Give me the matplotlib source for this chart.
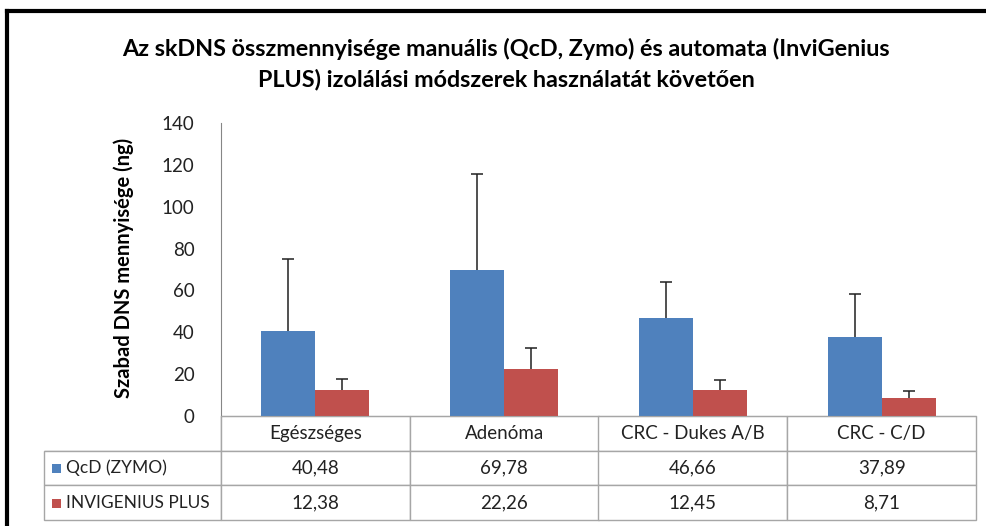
import matplotlib.pyplot as plt
import numpy as np
from matplotlib.patches import Rectangle

# ==============================================
categories = ["Egészséges", "Adenóma", "CRC - Dukes A/B", "CRC - C/D"]
series_names = ["QcD (ZYMO)", "INVIGENIUS PLUS"]
qcd_values = [40.48, 69.78, 46.66, 37.89]
inv_values = [12.38, 22.26, 12.45, 8.71]
# upper error bars
qcd_err = [34.7, 45.8, 17.4, 20.5]
inv_err = [5.2, 10.0, 4.6, 3.2]

title = "Az skDNS összmennyisége manuális (QcD, Zymo) és automata (InviGenius\nPLUS) izolálási módszerek használatát követően"
ylabel = "Szabad DNS mennyisége (ng)"
yticks = [0, 20, 40, 60, 80, 100, 120, 140]

blue = "#4F81BD"
red = "#C0504D"
grid_grey = "#A6A6A6"

plt.rcParams["font.family"] = ["Lato", "DejaVu Sans"]

# ==============================================
W, H = 987, 526
fig = plt.figure(figsize=(W / 100, H / 100), dpi=100)

# plot area in pixels: x 221..976, y 123..416
ax = fig.add_axes([221 / W, 1 - 416 / H, (976 - 221) / W, (416 - 123) / H])

x = np.arange(len(categories))
bw = 0.286
err_style = dict(ecolor="#202020", elinewidth=1.1, capthick=1.1)
b1 = ax.bar(x - bw / 2, qcd_values, bw, color=blue, zorder=2,
            yerr=[np.zeros(len(x)), qcd_err], capsize=4, error_kw=err_style)
b2 = ax.bar(x + bw / 2, inv_values, bw, color=red, zorder=2,
            yerr=[np.zeros(len(x)), inv_err], capsize=4, error_kw=err_style)
# only the upper half of the error bars is shown
for b in (b1, b2):
    caps = b.errorbar.lines[1]
    caps[0].set_visible(False)

ax.set_xlim(-0.5, len(categories) - 0.5)
ax.set_ylim(0, 140)
ax.set_yticks(yticks)
ax.set_yticklabels([str(t) for t in yticks], fontsize=13.5, color="#222222")
ax.tick_params(axis="y", length=0, pad=19)
ax.set_xticks([])
for s in ["top", "right"]:
    ax.spines[s].set_visible(False)
ax.spines["left"].set_color("#868686")
ax.spines["bottom"].set_color(grid_grey)

fig.text(124 / W, 1 - 268 / H, ylabel, rotation=90, ha="center", va="center",
         fontsize=14.5, fontweight="bold")
fig.text(506 / W, 1 - 64 / H, title, ha="center", va="center",
         fontsize=16.8, fontweight="bold", linespacing=1.45)

# ==============================================
# data table under the plot
fmt = lambda v: f"{v:.2f}".replace(".", ",")
cell_text = [[""] + categories,
             ["    " + series_names[0]] + [fmt(v) for v in qcd_values],
             ["    " + series_names[1]] + [fmt(v) for v in inv_values]]

ax_h = 416 - 123
ax_w = 976 - 221
tbl = ax.table(cellText=cell_text,
               colWidths=[177] + [188.75] * 4,
               bbox=[(44 - 221) / ax_w, -(520 - 416) / ax_h, (976 - 44) / ax_w, (520 - 416) / ax_h],
               cellLoc="center")
tbl.auto_set_font_size(False)
for (r, c), cell in tbl.get_celld().items():
    cell.set_edgecolor(grid_grey)
    cell.set_linewidth(1.0)
    cell.get_text().set_fontsize(13.5)
    cell.get_text().set_color("#222222")
    if c == 0:
        cell.get_text().set_fontsize(12.5)
        cell.get_text().set_horizontalalignment("left")
        cell._loc = "left"
        cell.PAD = 0.02
    if r == 0 and c == 0:
        cell.visible_edges = "BR"

# legend keys in the row label cells
for i, col in enumerate([blue, red]):
    yc = 468.5 + i * 34.5
    ax.add_patch(Rectangle(((52 - 221) / ax_w, (416 - yc - 4.5) / ax_h), 9 / ax_w, 9 / ax_h,
                           transform=ax.transAxes, facecolor=col, edgecolor="none",
                           clip_on=False))

# outer chart frame (top and left edges visible)
fig.add_artist(plt.Line2D([7.5 / W, 1], [1 - 11 / H, 1 - 11 / H], color="black", lw=3))
fig.add_artist(plt.Line2D([7.5 / W, 7.5 / W], [0, 1 - 11 / H], color="black", lw=3))

plt.savefig("out.png", dpi=100)
